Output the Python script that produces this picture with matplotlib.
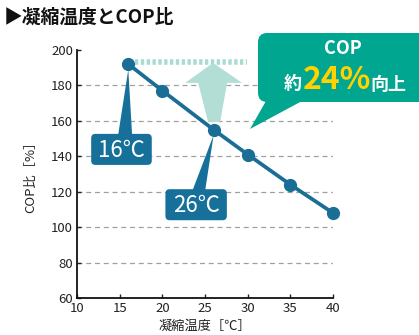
import matplotlib
matplotlib.use("Agg")
import matplotlib.pyplot as plt
from matplotlib.patches import FancyBboxPatch, Polygon

plt.rcParams['font.family'] = ['Noto Sans CJK JP', 'DejaVu Sans']

# Data: condensing temperature vs COP ratio
temps = [16, 20, 26, 30, 35, 40]
cop_ratio = [192, 177, 155, 141, 124, 108]
x_ticks = [10, 15, 20, 25, 30, 35, 40]
y_ticks = [60, 80, 100, 120, 140, 160, 180, 200]
title = "▶凝縮温度とCOP比"
x_label = "凝縮温度［℃］"
y_label = "COP比［%］"

LINE = "#1a6e96"
LABEL = "#16709a"
TEAL = "#00a690"
MINT = "#b3ded5"
YELLOW = "#ffd200"
TXT = "#222222"

fig = plt.figure(figsize=(4.19, 3.35), dpi=100)
ax = fig.add_axes([0.184, 0.110, 0.611, 0.741])
ax.set_xlim(10, 40)
ax.set_ylim(60, 200)
ax.set_xticks(x_ticks)
ax.set_yticks(y_ticks)
ax.tick_params(direction='in', length=3, width=1, labelsize=9.5, colors=TXT, pad=3)
for s in ['top', 'right']:
    ax.spines[s].set_visible(False)
for s in ['left', 'bottom']:
    ax.spines[s].set_linewidth(1.3)
    ax.spines[s].set_color("#111111")

# dashed horizontal guides
for v in y_ticks[1:-1]:
    ax.axhline(v, color="#a0a0a0", lw=0.9, ls=(0, (4, 3)), zorder=1)

ax.set_xlabel(x_label, fontsize=9.5, color=TXT, labelpad=3)
ax.set_ylabel(y_label, fontsize=9.5, color=TXT, labelpad=10)

# dotted reference level at 16°C value
ax.plot([16.8, 29.9], [193, 193], color="#a9dbd2", lw=4, ls=(0, (0.6, 0.45)),
        solid_capstyle='butt', zorder=2)

# upward arrow from the 26°C point
arrow = Polygon([(25.35, 159.4), (26.76, 159.4), (27.58, 181.4), (29.34, 181.4),
                 (25.94, 192.7), (22.66, 181.4), (24.18, 181.4)],
                closed=True, facecolor=MINT, edgecolor='none', zorder=2)
ax.add_patch(arrow)

ax.plot(temps, cop_ratio, color=LINE, lw=2.7, marker='o', ms=8.5,
        markerfacecolor=LINE, markeredgecolor=LINE, zorder=4, clip_on=False)

# temperature labels with pointers
def temp_label(text, px, py, cx, cy, w, h, bx0, bx1):
    ax.add_patch(Polygon([(bx0, cy + h / 2 - 1), (bx1, cy + h / 2 - 1), (px, py - 3)],
                         closed=True, facecolor=LABEL, edgecolor='none', zorder=5))
    box = FancyBboxPatch((cx - w / 2, cy - h / 2), w, h,
                         boxstyle="round,pad=0,rounding_size=0.5",
                         facecolor=LABEL, edgecolor='none', zorder=5,
                         mutation_aspect=140 / 248 * 256 / 30)
    ax.add_patch(box)
    ax.text(cx, cy - 0.5, text, color='white', fontsize=16, ha='center', va='center',
            zorder=6)

temp_label("16℃", temps[0], cop_ratio[0], 15.2, 143.9, 7.1, 17.5, 14.8, 16.45)
temp_label("26℃", temps[2], cop_ratio[2], 23.95, 112.7, 7.2, 17.5, 23.5, 25.0)

# callout bubble
W, H = 419, 335
def f(px, py):
    return (px / W, 1 - py / H)

bx0, by0 = f(258, 102)
bx1, by1 = f(440, 33)
bubble = FancyBboxPatch((bx0, by0), bx1 - bx0, by1 - by0,
                        boxstyle="round,pad=0,rounding_size=0.022",
                        facecolor=TEAL, edgecolor='none', transform=fig.transFigure,
                        mutation_aspect=W / H, zorder=3)
fig.patches.append(bubble)
tail = Polygon([f(266, 101), f(302, 101), f(250, 129)], closed=True,
               facecolor=TEAL, edgecolor='none', transform=fig.transFigure)
fig.patches.append(tail)

fig.text(343 / W, 1 - 49 / H, "COP", color='white', fontsize=13, fontweight='bold',
         ha='center', va='center')
fig.text(293 / W, 1 - 84 / H, "約", color='white', fontsize=13, fontweight='bold',
         ha='center', va='center')
fig.text(337 / W, 1 - 80 / H, "24%", color=YELLOW, fontsize=23, fontweight='bold',
         ha='center', va='center')
fig.text(388 / W, 1 - 84 / H, "向上", color='white', fontsize=13, fontweight='bold',
         ha='center', va='center')

fig.text(4 / W, 1 - 17 / H, title, color="#111111", fontsize=13.5, fontweight='bold',
         ha='left', va='center')

fig.savefig("out.png", dpi=100, facecolor='white')
